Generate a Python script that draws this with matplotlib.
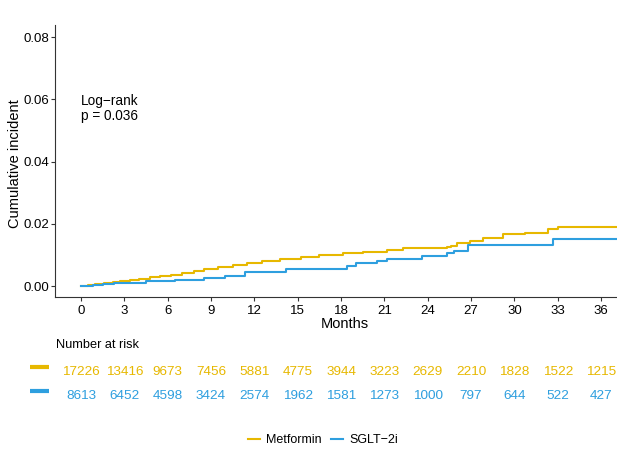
import matplotlib
matplotlib.use('Agg')
import matplotlib.pyplot as plt
import numpy as np

plt.rcParams['font.family'] = ['Liberation Sans', 'DejaVu Sans']

# step curves (months, cumulative incidence)
met_t = [0, 0.5, 1.0, 1.6, 2.2, 2.7, 3.4, 4.0, 4.8, 5.5, 6.2, 7.0, 7.8, 8.5, 9.5, 10.5, 11.5, 12.5, 13.8, 15.2, 16.5, 18.1, 19.5, 21.2, 22.3, 25.3, 25.6, 26.0, 26.9, 27.8, 29.2, 30.7, 32.3, 33.0, 37.5]
met_y = [0, 0.0004, 0.0008, 0.0011, 0.0014, 0.0017, 0.0020, 0.0024, 0.0028, 0.0032, 0.0037, 0.0042, 0.0048, 0.0055, 0.0062, 0.0069, 0.0075, 0.0080, 0.0087, 0.0094, 0.0100, 0.0105, 0.0110, 0.0116, 0.0121, 0.0125, 0.0130, 0.0137, 0.0146, 0.0156, 0.0167, 0.0172, 0.0182, 0.0191, 0.0191]
sg_t = [0, 0.8, 1.5, 2.3, 3.0, 4.5, 6.5, 8.5, 10.0, 11.35, 14.2, 18.4, 19.0, 20.5, 21.2, 23.6, 25.3, 25.8, 26.8, 32.7, 37.5]
sg_y = [0, 0.0003, 0.0006, 0.0009, 0.0011, 0.0017, 0.0021, 0.0027, 0.0032, 0.0046, 0.0054, 0.0064, 0.0073, 0.0081, 0.0088, 0.0096, 0.0105, 0.0112, 0.0132, 0.0150, 0.0150]

risk_times = list(range(0, 37, 3))
met_risk = [17226, 13416, 9673, 7456, 5881, 4775, 3944, 3223, 2629, 2210, 1828, 1522, 1215]
sg_risk = [8613, 6452, 4598, 3424, 2574, 1962, 1581, 1273, 1000, 797, 644, 522, 427]

groups = ['Metformin', 'SGLT\u22122i']
colors = ['#E7B800', '#2E9FDF']

W, H = 617, 453
fig = plt.figure(figsize=(W / 100, H / 100), dpi=100)

xmin, xmax = -1.8, 37.1
ax = fig.add_axes([55 / W, 1 - 297 / H, 1 - 55 / W, (297 - 25) / H])
l1, = ax.plot(met_t, met_y, drawstyle='steps-post', color=colors[0], lw=1.5)
l2, = ax.plot(sg_t, sg_y, drawstyle='steps-post', color=colors[1], lw=1.5)
ax.set_xlim(xmin, xmax)
ax.set_ylim(-0.0035, 0.0839)
ax.set_xticks(risk_times)
ax.set_yticks([0, 0.02, 0.04, 0.06, 0.08])
ax.set_yticklabels(['0.00', '0.02', '0.04', '0.06', '0.08'])
ax.tick_params(labelsize=9.5, length=3, color='#333333', labelcolor='black')
ax.tick_params(axis='y', pad=1.5)
ax.tick_params(axis='x', pad=2.5)
for s in ['top', 'right']:
    ax.spines[s].set_visible(False)
for s in ['left', 'bottom']:
    ax.spines[s].set_color('#333333')
ax.set_xlabel('Months', fontsize=10.5)
ax.xaxis.set_label_coords((345 - 55) / 562, -(317 - 297) / 272)
ax.set_ylabel('Cumulative incident', fontsize=10.5)
ax.yaxis.set_label_coords(-(55 - 22) / 562, 0.49)
ax.text(0, 0.057, 'Log\u2212rank\np = 0.036', fontsize=9.8, va='center', ha='left', linespacing=1.1)

# number at risk table
tab = fig.add_axes([55 / W, 1 - 408 / H, 1 - 55 / W, 48 / H])
tab.set_xlim(xmin, xmax)
tab.set_ylim(0, 2)
tab.axis('off')
for row, (vals, c) in enumerate([(met_risk, colors[0]), (sg_risk, colors[1])]):
    yy = 1.5 - row
    for t, n in zip(risk_times, vals):
        tab.text(t, yy, str(n), color=c, fontsize=9.7, ha='center', va='center')
    tab.plot([-3.53, -2.22], [yy + 0.19, yy + 0.19], color=c, lw=3, clip_on=False, solid_capstyle='butt')
fig.text(56 / W, 1 - 345 / H, 'Number at risk', fontsize=9.2, va='center', ha='left')

fig.legend([l1, l2], groups, loc='center', bbox_to_anchor=(323 / W, 1 - 440 / H), ncol=2,
           frameon=False, fontsize=9, handlelength=1.0, handletextpad=0.5, columnspacing=0.7)

fig.savefig('out.png', dpi=100)
